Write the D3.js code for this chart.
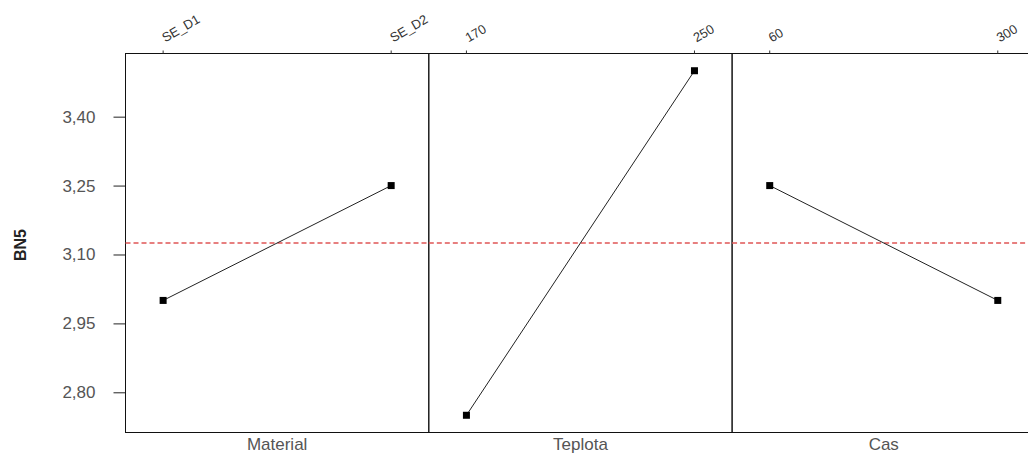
<!DOCTYPE html>
<html>
<head>
<meta charset="utf-8">
<script src="https://cdn.jsdelivr.net/npm/d3@7"></script>
<style>
  body { margin: 0; background: #fff; overflow: hidden; }
  svg { display: block; font-family: "Liberation Sans", Arial, sans-serif; }
</style>
</head>
<body>
<svg id="chart"></svg>
<script>
const width = 1028;
const height = 456;

// data
const factors = ["Material", "Teplota", "Cas"];
const levels = [["SE_D1", "SE_D2"], ["170", "250"], ["60", "300"]];
const means = [[3.00, 3.25], [2.75, 3.50], [3.25, 3.00]];
const grandMean = 3.125;
const yTicks = [2.80, 2.95, 3.10, 3.25, 3.40];

const plotLeft = 125.5, plotTop = 53.5, plotBottom = 432.5;
const panelW = 303.3;

var svg = d3.select("#chart")
    .attr("width", width)
    .attr("height", height);

var y = d3.scaleLinear()
    .domain([2.7125, 3.5375])
    .range([plotBottom, plotTop]);

var comma = d3.formatLocale({ decimal: ",", thousands: ".", grouping: [3], currency: ["", ""] }).format(".2f");

// y axis
var yAxis = svg.append("g")
    .attr("transform", `translate(${plotLeft},0)`)
    .call(d3.axisLeft(y).tickValues(yTicks).tickFormat(comma).tickSize(12).tickPadding(18));
yAxis.select(".domain").remove();
yAxis.selectAll("line").attr("stroke", "#222");
yAxis.selectAll("text")
    .attr("fill", "#555")
    .style("font-size", "17px");

svg.append("text")
    .attr("transform", `translate(26,245) rotate(-90)`)
    .attr("text-anchor", "middle")
    .style("font-size", "16px")
    .style("font-weight", "bold")
    .attr("fill", "#222")
    .text("BN5");

// panels
factors.forEach((f, i) => {
    const x0 = plotLeft + i * panelW;
    var x = d3.scalePoint()
        .domain(levels[i])
        .range([x0, x0 + panelW])
        .padding(0.165);

    var g = svg.append("g");

    g.append("rect")
        .attr("x", x0)
        .attr("y", plotTop)
        .attr("width", panelW)
        .attr("height", plotBottom - plotTop)
        .attr("fill", "none")
        .attr("stroke", "#111")
        .attr("stroke-width", 1);

    // top ticks + rotated labels
    levels[i].forEach(l => {
        g.append("line")
            .attr("x1", x(l)).attr("x2", x(l))
            .attr("y1", plotTop).attr("y2", plotTop - 3)
            .attr("stroke", "#333");
        g.append("text")
            .attr("transform", `translate(${x(l) + 2},${plotTop - 11}) rotate(-30)`)
            .style("font-size", "13px")
            .attr("fill", "#333")
            .text(l);
    });

    // factor label
    g.append("text")
        .attr("x", x0 + panelW / 2)
        .attr("y", 450)
        .attr("text-anchor", "middle")
        .style("font-size", "17px")
        .attr("fill", "#555")
        .text(f);

    // reference mean line
    g.append("line")
        .attr("x1", x0).attr("x2", x0 + panelW)
        .attr("y1", y(grandMean)).attr("y2", y(grandMean))
        .attr("stroke", "#e05555")
        .attr("stroke-width", 1.3)
        .attr("stroke-dasharray", "5,3");

    const pts = levels[i].map((l, j) => [x(l), y(means[i][j])]);

    g.append("path")
        .attr("d", d3.line()(pts))
        .attr("fill", "none")
        .attr("stroke", "#222")
        .attr("stroke-width", 1);

    g.selectAll("rect.pt")
        .data(pts)
        .enter().append("rect")
        .attr("class", "pt")
        .attr("x", d => d[0] - 3.5)
        .attr("y", d => d[1] - 3.5)
        .attr("width", 7)
        .attr("height", 7)
        .attr("fill", "#000");
});
</script>
</body>
</html>
